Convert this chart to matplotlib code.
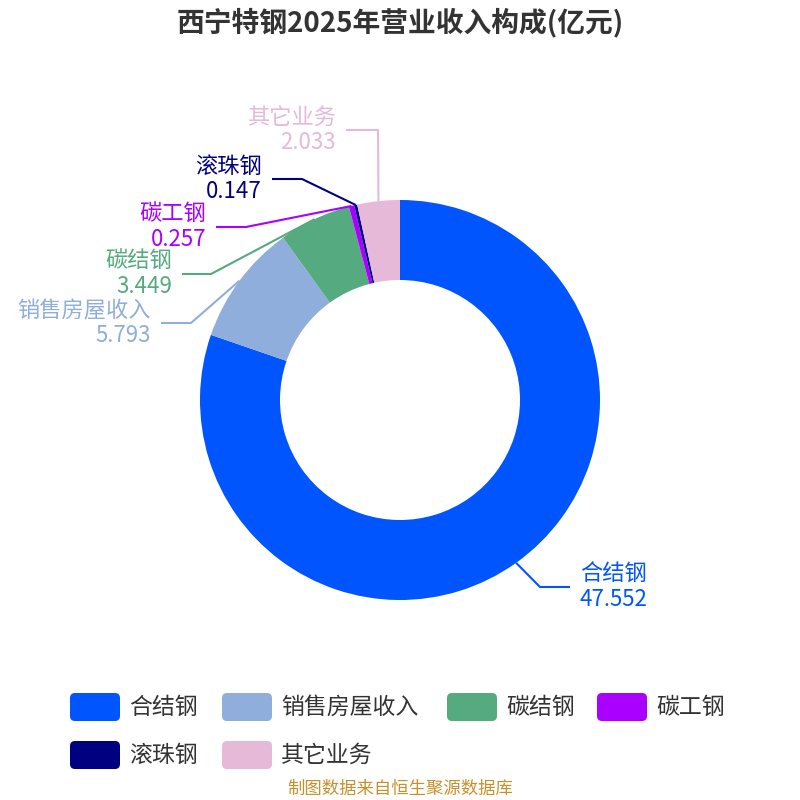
import matplotlib.pyplot as plt
import numpy as np
from matplotlib.patches import FancyBboxPatch

plt.rcParams['font.family'] = ['Noto Sans CJK SC', 'DejaVu Sans']

names = ["合结钢", "销售房屋收入", "碳结钢", "碳工钢", "滚珠钢", "其它业务"]
values = [47.552, 5.793, 3.449, 0.257, 0.147, 2.033]
colors = ["#0055FF", "#8FAEDB", "#55AA7F", "#AA00FF", "#000080", "#E6B9D8"]

# label layout (pixel coords: elbow point, horizontal end)
elbows = [(540, 587), (191, 323), (211, 274), (246, 227), (302, 179), (378, 130)]
ends = [(570, 587), (161, 323), (182, 274), (216, 227), (272, 179), (346, 130)]

fig = plt.figure(figsize=(8, 8), dpi=100)
ax = fig.add_axes([0, 0, 1, 1])

cx, cy, r = 400, 400, 200
wedges, _ = ax.pie(values, colors=colors, radius=r, center=(cx, cy),
                   startangle=90, counterclock=False,
                   wedgeprops=dict(width=80, linewidth=0), frame=True)
ax.set_xlim(0, 800)
ax.set_ylim(0, 800)
ax.set_aspect("equal")
ax.axis("off")

for i, w in enumerate(wedges):
    ang = np.deg2rad((w.theta1 + w.theta2) / 2)
    x0 = cx + r * np.cos(ang)
    y0 = cy + r * np.sin(ang)
    ex, ey = elbows[i][0], 800 - elbows[i][1]
    hx, hy = ends[i][0], 800 - ends[i][1]
    ax.plot([x0, ex, hx], [y0, ey, hy], color=colors[i], lw=1.5,
            solid_capstyle="butt")
    if hx > ex:
        tx, ha = hx + 10, "left"
    else:
        tx, ha = hx - 10, "right"
    ax.text(tx, hy + 1, names[i], color=colors[i], fontsize=16,
            ha=ha, va="bottom")
    ax.text(tx, hy - 1, f"{values[i]:.3f}", color=colors[i], fontsize=16,
            ha=ha, va="top")

ax.text(400, 777, "西宁特钢2025年营业收入构成(亿元)", fontsize=20,
        fontweight="bold", color="#333333", ha="center", va="center")

# legend
leg_pos = [(70, 707), (222, 707), (447, 707), (597, 707), (70, 755), (222, 755)]
for i, (lx, ly) in enumerate(leg_pos):
    y = 800 - ly
    box = FancyBboxPatch((lx, y - 14), 50, 28,
                         boxstyle="round,pad=0,rounding_size=5",
                         facecolor=colors[i], edgecolor="none")
    ax.add_patch(box)
    ax.text(lx + 59, y, names[i], fontsize=16.5, color="#333333",
            ha="left", va="center")

ax.text(400, 11, "制图数据来自恒生聚源数据库", fontsize=12.5,
        color="#C8902A", ha="center", va="center")

fig.savefig("out.png", dpi=100)
